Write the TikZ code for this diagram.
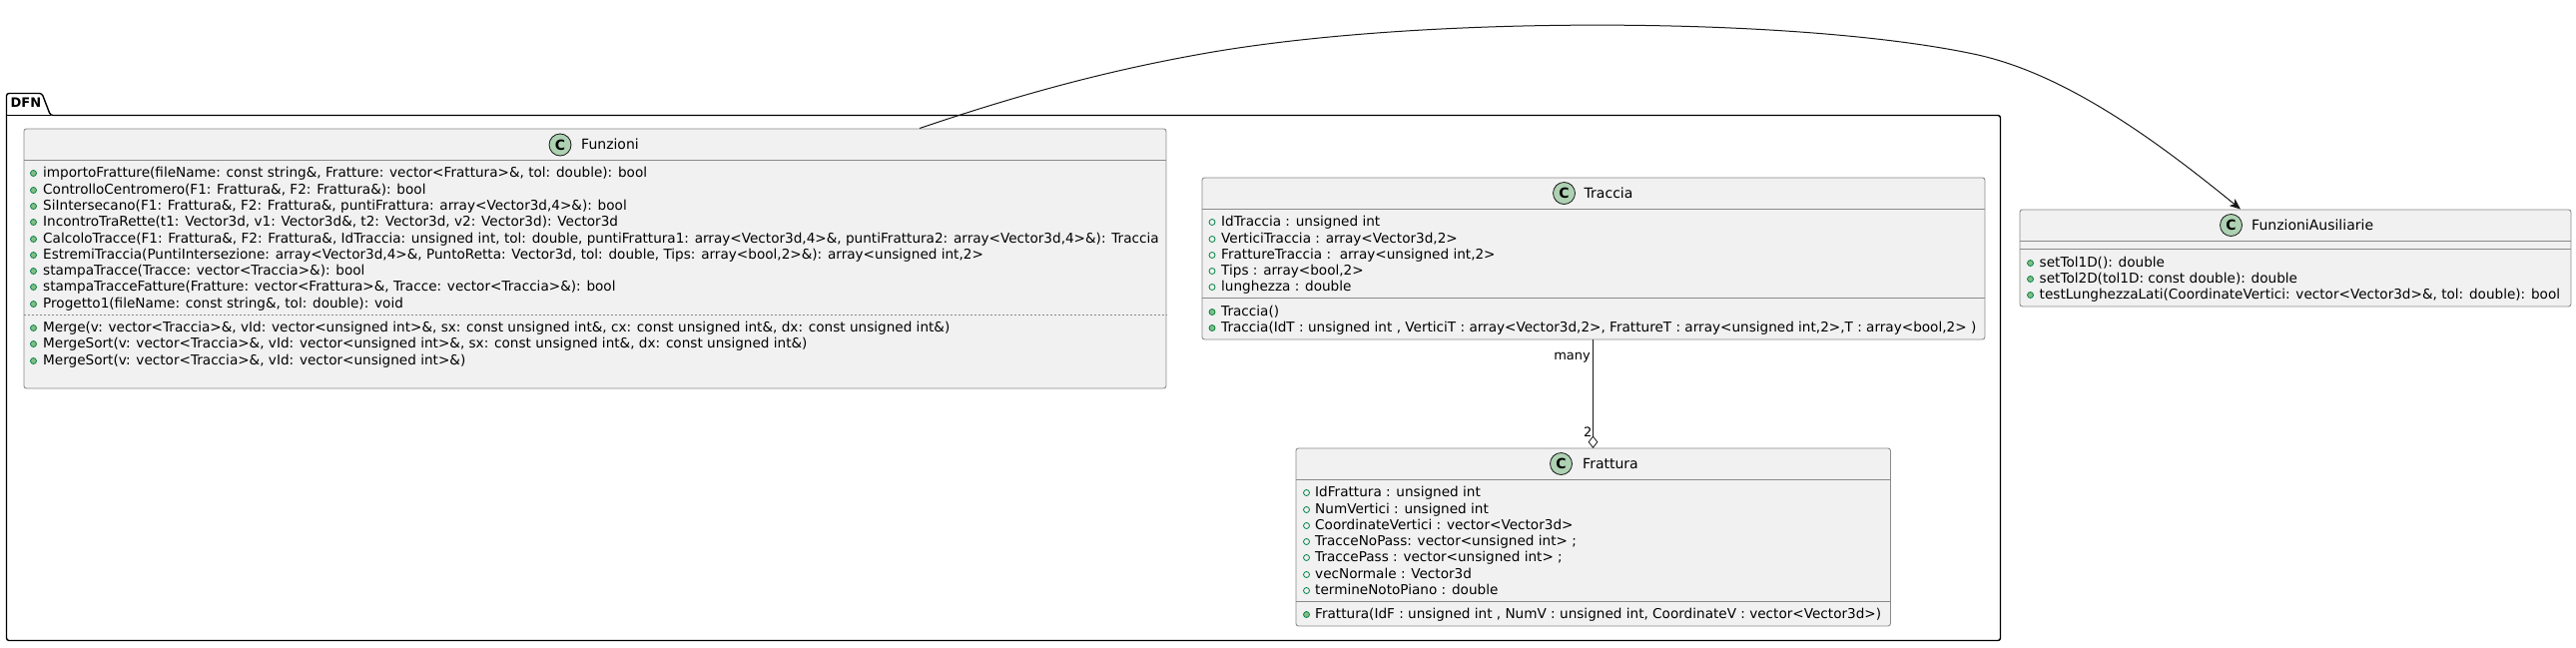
\documentclass[tikz,border=0pt]{standalone}
\usepackage{fontspec}
\setmainfont{DejaVu Sans}
\usetikzlibrary{arrows.meta,shapes.geometric}
\definecolor{boxfill}{HTML}{F1F1F1}
\definecolor{boxline}{HTML}{8A8A8A}
\definecolor{badge}{HTML}{ADD1B2}
\definecolor{publine}{HTML}{038048}
\definecolor{pubfill}{HTML}{84BE84}
\definecolor{wire}{HTML}{181818}
\tikzset{
 classbox/.style={draw=boxline,fill=boxfill,line width=0.9pt,rounded corners=2.5pt,inner sep=0pt,anchor=north west},
 sepline/.style={draw=boxline,line width=0.9pt},
 title/.style={font=\fontsize{14}{16}\selectfont,inner sep=0pt,anchor=base west},
 member/.style={font=\fontsize{13.6}{16}\selectfont,inner sep=0pt,anchor=base west},
 mult/.style={font=\fontsize{13}{15}\selectfont,inner sep=0pt,anchor=base east},
 field/.style={circle,draw=publine,line width=0.8pt,minimum size=6pt,inner sep=0pt},
 method/.style={circle,draw=publine,fill=pubfill,line width=0.8pt,minimum size=6pt,inner sep=0pt},
 cbadge/.style={circle,draw=wire,fill=badge,line width=0.8pt,minimum size=22pt,inner sep=0pt,font=\fontsize{14}{16}\selectfont\bfseries},
}
\begin{document}
\begin{tikzpicture}[x=1pt,y=-1pt]
 \useasboundingbox (0,0) rectangle (2580,648);
 %
 \draw[line width=1.4pt,rounded corners=2.5pt] (6.5,115.5) -- (6.5,93.5) -- (42,93.5) -- (50.5,115.5) -- (2003.5,115.5) -- (2003.5,641.5) -- (6.5,641.5) -- cycle;
 \draw[line width=1.4pt] (6.5,115.5) -- (50.5,115.5);
 \node[title,font=\fontsize{13}{16}\selectfont\bfseries] (dfn) at (10.5,107.5) {DFN};
 %
 \node[classbox,minimum width=1144pt,minimum height=260pt] (funzioni) at (23.5,128.5) {};
 \draw[sepline] (funzioni.west |- 0,160.5) -- (funzioni.east |- 0,160.5);
 \draw[sepline,dash pattern=on 2pt off 2pt] (funzioni.west |- 0,315.5) -- (funzioni.east |- 0,315.5);
 \node[cbadge] (funzionibadge) at (561,145) {C};
 \node[title] (funzionititle) at (582,149.5) {Funzioni};
 \foreach \Y/\Txt [count=\Z] in {
  172/{importoFratture(fileName: const string\&, Fratture: vector<Frattura>\&, tol: double): bool},
  189/{ControlloCentromero(F1: Frattura\&, F2: Frattura\&): bool},
  205/{SiIntersecano(F1: Frattura\&, F2: Frattura\&, puntiFrattura: array<Vector3d,4>\&): bool},
  221/{IncontroTraRette(t1: Vector3d, v1: Vector3d\&, t2: Vector3d, v2: Vector3d): Vector3d},
  238/{CalcoloTracce(F1: Frattura\&, F2: Frattura\&, IdTraccia: unsigned int, tol: double, puntiFrattura1: array<Vector3d,4>\&, puntiFrattura2: array<Vector3d,4>\&): Traccia},
  254/{EstremiTraccia(PuntiIntersezione: array<Vector3d,4>\&, PuntoRetta: Vector3d, tol: double, Tips: array<bool,2>\&): array<unsigned int,2>},
  270/{stampaTracce(Tracce: vector<Traccia>\&): bool},
  286/{stampaTracceFatture(Fratture: vector<Frattura>\&, Tracce: vector<Traccia>\&): bool},
  303/{Progetto1(fileName: const string\&, tol: double): void},
  327/{Merge(v: vector<Traccia>\&, vId: vector<unsigned int>\&, sx: const unsigned int\&, cx: const unsigned int\&, dx: const unsigned int\&)},
  343/{MergeSort(v: vector<Traccia>\&, vId: vector<unsigned int>\&, sx: const unsigned int\&, dx: const unsigned int\&)},
  360/{MergeSort(v: vector<Traccia>\&, vId: vector<unsigned int>\&)}}
 {
 \node[method] (funzionidot\Z) at (33.5,\Y+1.5) {};
 \node[member] (funzionirow\Z) at (43,\Y+5) {\Txt};
 }
 %
 \node[classbox,minimum width=784pt,minimum height=162pt] (traccia) at (1203.5,177.5) {};
 \draw[sepline] (traccia.west |- 0,209.5) -- (traccia.east |- 0,209.5);
 \draw[sepline] (traccia.west |- 0,298.5) -- (traccia.east |- 0,298.5);
 \node[cbadge] (tracciabadge) at (1566.5,193.5) {C};
 \node[title] (tracciatitle) at (1586.5,198) {Traccia};
 \foreach \Y/\Txt [count=\Z] in {
  221/{IdTraccia : unsigned int},
  238/{VerticiTraccia : array<Vector3d,2>},
  254/{FrattureTraccia :\ \ array<unsigned int,2>},
  270/{Tips : array<bool,2>},
  286/{lunghezza : double}}
 {
 \node[field] (tracciadot\Z) at (1214,\Y+1.5) {};
 \node[member] (tracciarow\Z) at (1223,\Y+5) {\Txt};
 }
 \foreach \Y/\Txt [count=\Z] in {
  311/{Traccia()},
  327/{Traccia(IdT : unsigned int , VerticiT : array<Vector3d,2>, FrattureT : array<unsigned int,2>,T : array<bool,2> )}}
 {
 \node[method] (tracciamdot\Z) at (1214,\Y+1.5) {};
 \node[member] (tracciamrow\Z) at (1223,\Y+5) {\Txt};
 }
 %
 \node[classbox,minimum width=595.5pt,minimum height=178pt] (frattura) at (1297.5,448.5) {};
 \draw[sepline] (frattura.west |- 0,480.5) -- (frattura.east |- 0,480.5);
 \draw[sepline] (frattura.west |- 0,602.5) -- (frattura.east |- 0,602.5);
 \node[cbadge] (fratturabadge) at (1563.5,464.5) {C};
 \node[title] (fratturatitle) at (1585,469) {Frattura};
 \foreach \Y/\Txt [count=\Z] in {
  492/{IdFrattura : unsigned int},
  509/{NumVertici : unsigned int},
  525/{CoordinateVertici : vector<Vector3d>},
  541/{TracceNoPass: vector<unsigned int> ;},
  557/{TraccePass : vector<unsigned int> ;},
  574/{vecNormale : Vector3d},
  590/{termineNotoPiano : double}}
 {
 \node[field] (fratturadot\Z) at (1308.5,\Y+1.5) {};
 \node[member] (fratturarow\Z) at (1317,\Y+5) {\Txt};
 }
 \node[method] (fratturamdot) at (1308.5,615.5) {};
 \node[member] (fratturamrow) at (1317,619) {Frattura(IdF : unsigned int , NumV : unsigned int, CoordinateV : vector<Vector3d>)};
 %
 \node[classbox,minimum width=552pt,minimum height=97pt] (ausiliarie) at (2022.5,209.5) {};
 \draw[sepline] (ausiliarie.west |- 0,241.5) -- (ausiliarie.east |- 0,241.5);
 \draw[sepline] (ausiliarie.west |- 0,249.5) -- (ausiliarie.east |- 0,249.5);
 \node[cbadge] (ausiliariebadge) at (2234.5,225.5) {C};
 \node[title] (ausiliarietitle) at (2255,230) {FunzioniAusiliarie};
 \foreach \Y/\Txt [count=\Z] in {
  262/{setTol1D(): double},
  278/{setTol2D(tol1D: const double): double},
  294/{testLunghezzaLati(CoordinateVertici: vector<Vector3d>\&, tol: double): bool}}
 {
 \node[method] (ausiliariedot\Z) at (2033.5,\Y+1.5) {};
 \node[member] (ausiliarierow\Z) at (2042.5,\Y+5) {\Txt};
 }
 %
 \coordinate (bendone) at (1215,52);
 \coordinate (bendtwo) at (1981,55);
 \draw[draw=wire,line width=1pt,-{Stealth[length=11pt,width=9pt,inset=3pt]}] (921,0 |- funzioni.north) .. controls (1020,95) and (1110,70) .. (bendone) .. controls (1440,14) and (1810,17.5) .. (bendtwo) .. controls (2070,75) and (2160,141) .. (2244,0 |- ausiliarie.north);
 %
 \node[diamond,draw=wire,fill=white,line width=0.8pt,inner sep=0pt,minimum width=9pt,minimum height=11.5pt] (aggr) at (1595.5,442.7) {};
 \draw[draw=wire,line width=0.8pt] (aggr.north) -- (aggr.north |- traccia.south);
 \node[mult] (many) at (1593,360.5) {many};
 \node[mult] (two) at (1594.5,437.5) {2};
\end{tikzpicture}
\end{document}
